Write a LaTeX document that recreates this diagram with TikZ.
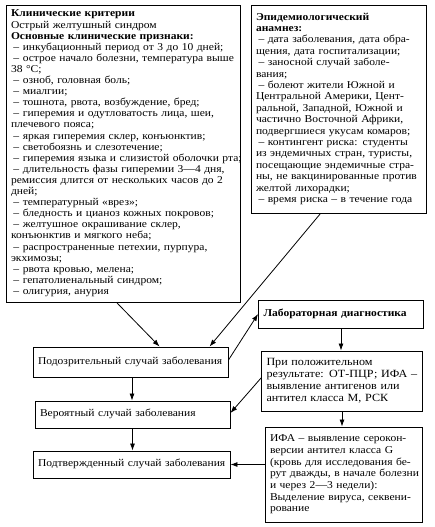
\documentclass[tikz,border=0pt]{standalone}
\usepackage{fontspec}
\setmainfont{Liberation Serif}[FakeStretch=1.1]
\usetikzlibrary{arrows.meta}
\newcommand\dsh{\hspace*{2.5pt}–\ }
\newcommand\bx[1]{\begin{tabular}{@{}l@{}}#1\end{tabular}}
\begin{document}
\begin{tikzpicture}[x=1pt,y=-1pt,
  box/.style={draw,line width=0.9pt,align=left,inner xsep=5pt,inner ysep=0pt,
    font=\fontsize{10.5}{11.1}\selectfont},
  arr/.style={line width=0.8pt,-{Latex[length=7pt,width=5pt]}}]
\useasboundingbox (0,0) rectangle (434,527);
\fill[white] (0,0) rectangle (434,527);

\node[box,text width=224pt,minimum height=297pt] (left) at (123,153.5) {\bx{%
\textbf{Клинические критерии}\\
Острый желтушный синдром\\
\textbf{Основные клинические признаки:}\\
\dsh инкубационный период от 3 до 10 дней;\\
\dsh острое начало болезни, температура выше\\
38 °С;\\
\dsh озноб, головная боль;\\
\dsh миалгии;\\
\dsh тошнота, рвота, возбуждение, бред;\\
\dsh гиперемия и одутловатость лица, шеи,\\
плечевого пояса;\\
\dsh яркая гиперемия склер, конъюнктив;\\
\dsh светобоязнь и слезотечение;\\
\dsh гиперемия языка и слизистой оболочки рта;\\
\dsh длительность фазы гиперемии 3—4 дня,\\
ремиссия длится от нескольких часов до 2\\
дней;\\
\dsh температурный «врез»;\\
\dsh бледность и цианоз кожных покровов;\\
\dsh желтушное окрашивание склер,\\
конъюнктив и мягкого неба;\\
\dsh распространенные петехии, пурпура,\\
экхимозы;\\
\dsh рвота кровью, мелена;\\
\dsh гепатолиенальный синдром;\\
\dsh олигурия, анурия}};

\node[box,text width=165pt,minimum height=208pt,
  font=\fontsize{10.5}{11.4}\selectfont] (right) at (338.5,109) {\bx{%
\textbf{Эпидемиологический}\\
\textbf{анамнез:}\\
\dsh дата заболевания, дата обра-\\
щения, дата госпитализации;\\
\dsh заносной случай заболе-\\
вания;\\
\dsh болеют жители Южной и\\
Центральной Америки, Цент-\\
ральной, Западной, Южной и\\
частично Восточной Африки,\\
подвергшиеся укусам комаров;\\
\dsh контингент риска: студенты\\
из эндемичных стран, туристы,\\
посещающие эндемичные стра-\\
ны, не вакцинированные против\\
желтой лихорадки;\\
\dsh время риска – в течение года}};

\node[box,text width=155pt,minimum height=28pt] (lab) at (341,314)
  {\bx{\textbf{Лабораторная диагностика}}};
\node[box,text width=185pt,minimum height=30pt] (susp) at (130.5,362)
  {\bx{Подозрительный случай заболевания}};
\node[box,text width=151pt,minimum height=60pt,
  font=\fontsize{11}{12.2}\selectfont] (pos) at (342,381) {\bx{%
При положительном\\
результате: ОТ-ПЦР; ИФА –\\
выявление антигенов или\\
антител класса М, РСК}};
\node[box,text width=185pt,minimum height=27pt] (prob) at (132.5,414.5)
  {\bx{Вероятный случай заболевания}};
\node[box,text width=147pt,minimum height=95pt,
  font=\fontsize{10.5}{11.7}\selectfont] (ifa) at (343.5,474.5) {\bx{%
ИФА – выявление серокон-\\
версии антител класса G\\
(кровь для исследования бе-\\
рут дважды, в начале болезни\\
и через 2—3 недели):\\
Выделение вируса, секвени-\\
рование}};
\node[box,text width=187pt,minimum height=27pt] (conf) at (131.5,464.5)
  {\bx{Подтвержденный случай заболевания}};

\draw[arr] ([xshift=111pt]left.south west) -- ([xshift=127pt]susp.north west);
\draw[arr] ([xshift=70pt]right.south west) -- ([xshift=177pt]susp.north west);
\draw[arr] ([yshift=2pt]susp.east) -- (lab.west);
\draw[arr] (lab.south) -- (lab.south |- pos.north);
\draw[arr] ([yshift=3pt]pos.west) -- ([yshift=1.5pt]prob.east);
\draw[arr] ([xshift=1.5pt]susp.south) -- ([xshift=1.5pt]susp.south |- prob.north);
\draw[arr] (prob.south) -- (prob.south |- conf.north);
\draw[arr] (pos.south) -- (pos.south |- ifa.north);
\draw[arr] (conf.east -| ifa.west) -- (conf.east);
\end{tikzpicture}
\end{document}
